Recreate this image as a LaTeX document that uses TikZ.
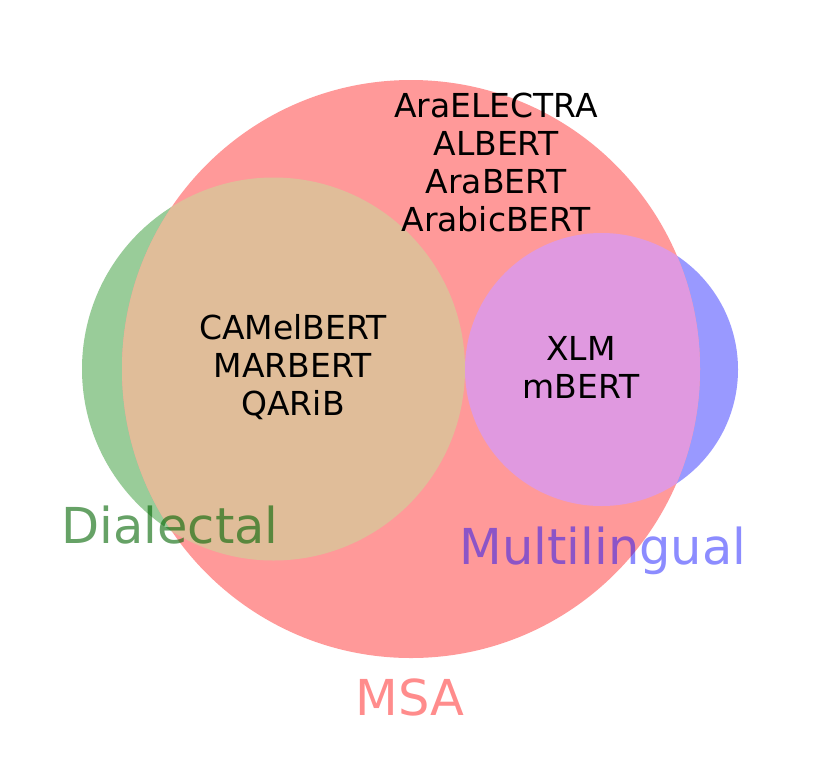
\documentclass[tikz,border=0pt]{standalone}
\usepackage{fontspec}
\setmainfont{DejaVu Sans}
\definecolor{msared}{HTML}{FF9999}
\definecolor{dialgreen}{HTML}{99CC99}
\definecolor{multiblue}{HTML}{9999FF}
\definecolor{tanmix}{HTML}{E0BD99}
\definecolor{purplemix}{HTML}{E099E0}
\begin{document}
\begin{tikzpicture}[x=1pt,y=-1pt,
  inner/.style={align=center,font=\fontsize{33}{38}\selectfont,text=black,inner sep=0pt},
  setlabel/.style={anchor=base,font=\fontsize{49.5}{56}\selectfont,inner sep=0pt}]
\useasboundingbox[fill=white] (0,0) rectangle (819,756);
% base circles
\fill[dialgreen] (273.5,369) circle (191.5);
\fill[multiblue] (601.5,369.5) circle (136.5);
\fill[msared] (411,369) circle (289);
\begin{scope}
  \clip (411,369) circle (289);
  \fill[tanmix] (273.5,369) circle (191.5);
  \fill[purplemix] (601.5,369.5) circle (136.5);
\end{scope}
% region labels
\node[inner] (msaonly) at (496,162) {AraELECTRA\\ALBERT\\AraBERT\\ArabicBERT};
\node[inner] (dialmsa) at (293,367) {CAMelBERT\\MARBERT\\QARiB};
\node[inner] (multimsa) at (581,367) {XLM\\mBERT};
% set labels
\node[setlabel,text={rgb,255:red,0;green,100;blue,0},text opacity=0.6] (dial) at (170,543) {Dialectal};
\node[setlabel,text=blue,text opacity=0.45] (multi) at (603,564) {Multilingual};
\node[setlabel,text=red,text opacity=0.45] (msa) at (410,715) {MSA};
\end{tikzpicture}
\end{document}
